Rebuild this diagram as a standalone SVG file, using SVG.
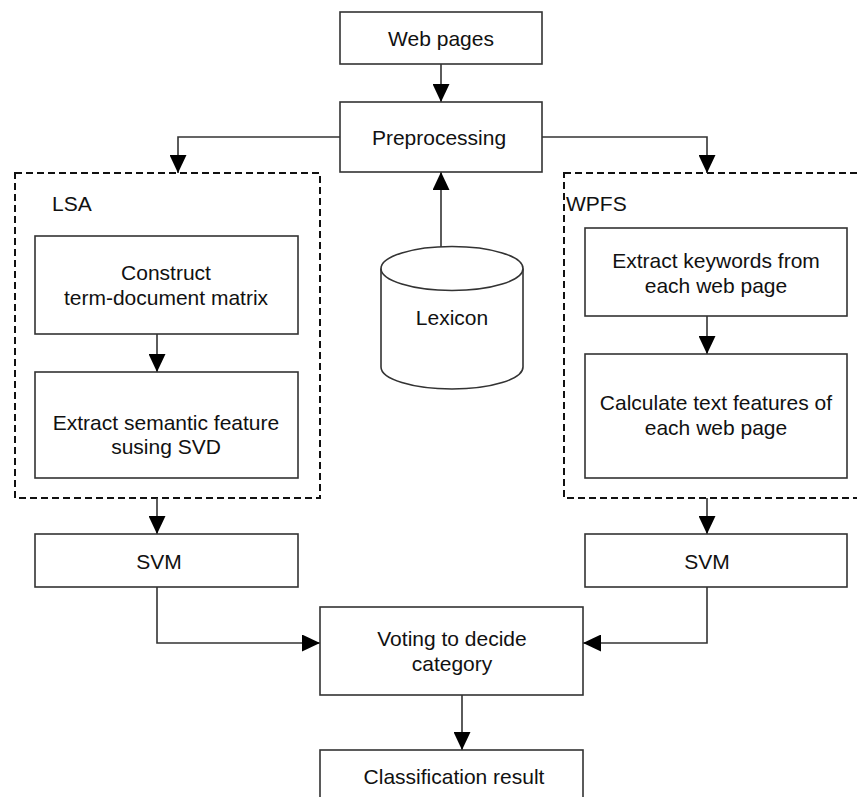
<svg xmlns="http://www.w3.org/2000/svg" width="857" height="797" viewBox="0 0 857 797">
<defs>
<style>
.box{fill:#fff;stroke:#333;stroke-width:1.6}
.dash{fill:none;stroke:#111;stroke-width:2;stroke-dasharray:7 4}
.ln{fill:none;stroke:#333;stroke-width:1.6}
text{font-family:"Liberation Sans",Arial,sans-serif;font-size:21px;fill:#111;text-anchor:middle}
.lbl{text-anchor:start}
</style>
<marker id="arr" viewBox="0 0 18 17" refX="18" refY="8.5" markerWidth="18" markerHeight="17" markerUnits="userSpaceOnUse" orient="auto">
<path d="M0,0 L18,8.5 L0,17 Z" fill="#000"/>
</marker>
</defs>
<rect width="857" height="797" fill="#fff"/>
<g id="lsa-group">
<rect class="dash" x="15" y="173" width="305" height="325"/>
<text class="lbl" x="52" y="211">LSA</text>
</g>
<g id="wpfs-group">
<rect class="dash" x="564" y="173" width="310" height="325"/>
<text class="lbl" x="566" y="211">WPFS</text>
</g>
<g id="connectors">
<line class="ln" x1="441" y1="64" x2="441" y2="102" marker-end="url(#arr)"/>
<polyline class="ln" points="340,137 178,137 178,173" marker-end="url(#arr)"/>
<polyline class="ln" points="542,137 707,137 707,173" marker-end="url(#arr)"/>
<line class="ln" x1="441" y1="247" x2="441" y2="172" marker-end="url(#arr)"/>
<line class="ln" x1="157" y1="334" x2="157" y2="372" marker-end="url(#arr)"/>
<line class="ln" x1="707" y1="316" x2="707" y2="354" marker-end="url(#arr)"/>
<line class="ln" x1="157" y1="498" x2="157" y2="534" marker-end="url(#arr)"/>
<line class="ln" x1="707" y1="498" x2="707" y2="534" marker-end="url(#arr)"/>
<polyline class="ln" points="157,587 157,643 320,643" marker-end="url(#arr)"/>
<polyline class="ln" points="707,587 707,643 583,643" marker-end="url(#arr)"/>
<line class="ln" x1="462" y1="695" x2="462" y2="750" marker-end="url(#arr)"/>
</g>
<g id="web-pages">
<rect class="box" x="340" y="12" width="202" height="52"/>
<text x="441" y="46">Web pages</text>
</g>
<g id="preprocessing">
<rect class="box" x="340" y="102" width="202" height="70"/>
<text x="439" y="145">Preprocessing</text>
</g>
<g id="lexicon">
<path class="box" d="M381,268.5 L381,367 A71,22 0 0 0 523,367 L523,268.5 A71,22 0 0 0 381,268.5 Z"/>
<path class="ln" d="M381,268.5 A71,22 0 0 0 523,268.5"/>
<text x="452" y="325">Lexicon</text>
</g>
<g id="construct">
<rect class="box" x="35" y="236" width="263" height="98"/>
<text x="166" y="280">Construct</text>
<text x="166" y="305">term-document matrix</text>
</g>
<g id="extract-semantic">
<rect class="box" x="35" y="372" width="263" height="106"/>
<text x="166" y="430">Extract semantic feature</text>
<text x="166" y="454">susing SVD</text>
</g>
<g id="extract-keywords">
<rect class="box" x="585" y="228" width="262" height="88"/>
<text x="716" y="268">Extract keywords from</text>
<text x="716" y="293">each web page</text>
</g>
<g id="calculate">
<rect class="box" x="585" y="354" width="262" height="124"/>
<text x="716" y="410">Calculate text features of</text>
<text x="716" y="435">each web page</text>
</g>
<g id="svm-left">
<rect class="box" x="35" y="534" width="263" height="53"/>
<text x="159" y="569">SVM</text>
</g>
<g id="svm-right">
<rect class="box" x="585" y="534" width="262" height="53"/>
<text x="707" y="569">SVM</text>
</g>
<g id="voting">
<rect class="box" x="320" y="607" width="263" height="88"/>
<text x="452" y="646">Voting to decide</text>
<text x="452" y="671">category</text>
</g>
<g id="classification">
<rect class="box" x="320" y="750" width="263" height="70"/>
<text x="454" y="784">Classification result</text>
</g>
</svg>
